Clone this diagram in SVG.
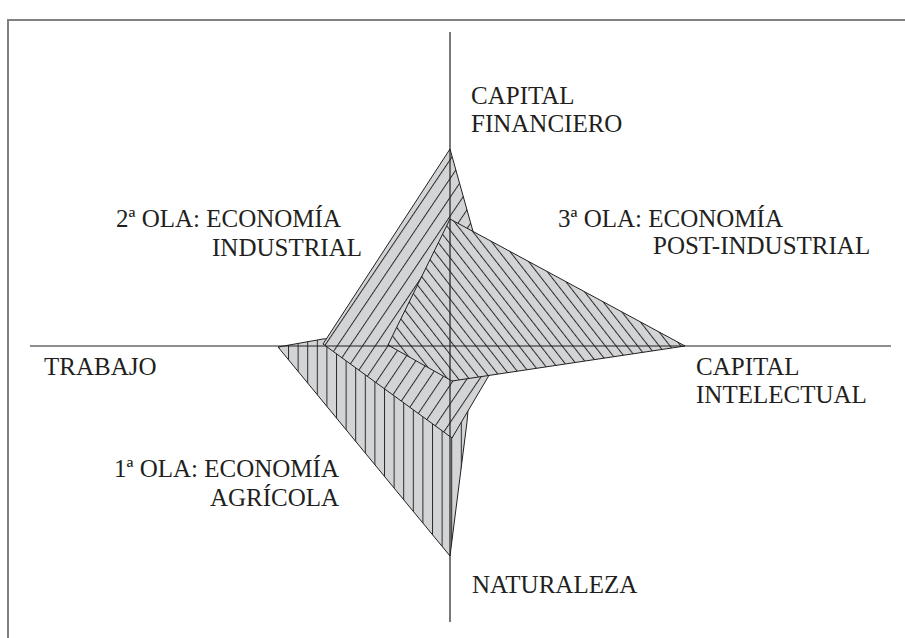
<svg xmlns="http://www.w3.org/2000/svg" width="905" height="638" viewBox="0 0 905 638">
<style>
.lbl{font-family:"Liberation Serif","Times New Roman",serif;font-size:25px;fill:#231f20}
.poly{stroke:#231f20;stroke-width:1;stroke-linejoin:miter}
.axis{stroke:#231f20;stroke-width:1.2;fill:none}
.frame{stroke:#808080;stroke-width:2;fill:none}
</style>
<defs>
<pattern id="hv" patternUnits="userSpaceOnUse" width="9.6" height="10">
<rect width="9.6" height="10" fill="#d3d4d6"/>
<line x1="0.5" y1="0" x2="0.5" y2="10" stroke="#2a2a2a" stroke-width="1"/>
</pattern>
<pattern id="hs" patternUnits="userSpaceOnUse" width="10.5" height="10" patternTransform="rotate(34)">
<rect width="10.5" height="10" fill="#d3d4d6"/>
<line x1="0.5" y1="0" x2="0.5" y2="10" stroke="#2a2a2a" stroke-width="1"/>
</pattern>
<pattern id="hb" patternUnits="userSpaceOnUse" width="8.5" height="10" patternTransform="rotate(-38)">
<rect width="8.5" height="10" fill="#d3d4d6"/>
<line x1="0.5" y1="0" x2="0.5" y2="10" stroke="#2a2a2a" stroke-width="1"/>
</pattern>
</defs>
<rect width="905" height="638" fill="#ffffff"/>
<path class="frame" d="M8 638 V20 H905"/>
<g id="ola1">
<polygon class="poly" fill="url(#hv)" points="278,347 323,339 450,330 472,362 467,422 450,556"/>
</g>
<g id="ola2">
<polygon class="poly" fill="url(#hs)" points="450,149 505,346 488,377 452,438 323,344"/>
</g>
<g id="ola3">
<polygon class="poly" fill="url(#hb)" points="450,219 685,346 452,381 388,345"/>
</g>
<g id="connectors">
<line class="axis" x1="450" y1="32" x2="450" y2="622"/>
<line class="axis" x1="30" y1="346" x2="891" y2="346"/>
</g>
<g id="labels">
<text class="lbl" x="471" y="104">CAPITAL</text>
<text class="lbl" x="471" y="132">FINANCIERO</text>
<text class="lbl" x="558" y="227">3ª OLA: ECONOMÍA</text>
<text class="lbl" x="653" y="254">POST-INDUSTRIAL</text>
<text class="lbl" x="116" y="227">2ª OLA: ECONOMÍA</text>
<text class="lbl" x="212" y="256">INDUSTRIAL</text>
<text class="lbl" x="44" y="375">TRABAJO</text>
<text class="lbl" x="696" y="375">CAPITAL</text>
<text class="lbl" x="696" y="403">INTELECTUAL</text>
<text class="lbl" x="114" y="477">1ª OLA: ECONOMÍA</text>
<text class="lbl" x="210" y="506">AGRÍCOLA</text>
<text class="lbl" x="472" y="593">NATURALEZA</text>
</g>
</svg>
